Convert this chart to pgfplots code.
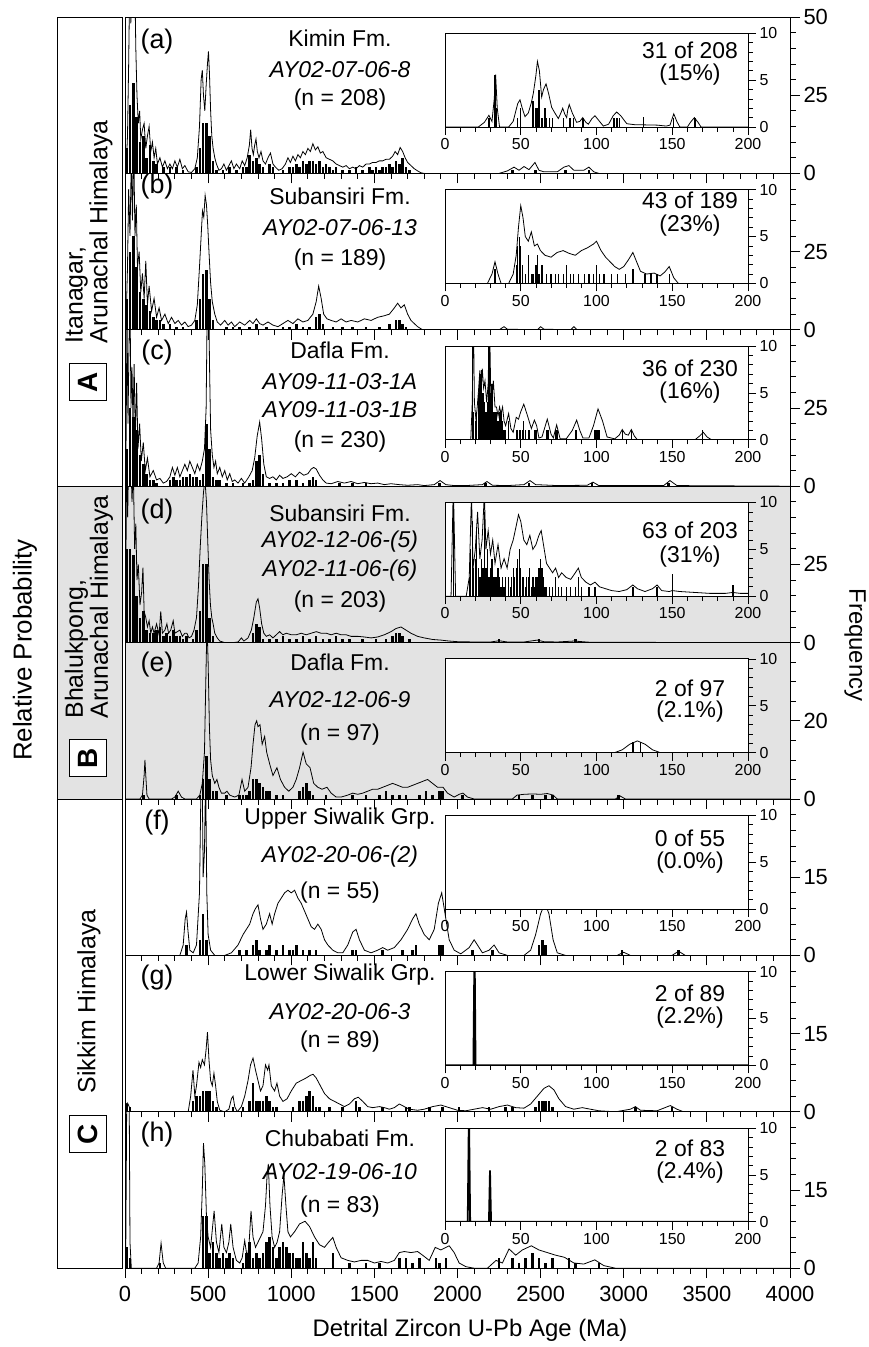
\documentclass[border=0pt]{standalone}
\usepackage{fontspec}
\setmainfont{Liberation Sans}
\usepackage{pgfplots}
\pgfplotsset{compat=1.18}
\definecolor{panelgray}{gray}{0.89}
\newcommand\pf{\fontsize{23}{23}\selectfont}
\newcommand\lf{\fontsize{27}{27}\selectfont}
\pgfplotsset{
  mainax/.style={
    scale only axis, width=665bp, height=156.4bp,
    xmin=0, xmax=4000, ymin=0,
    xtick={0,500,1000,1500,2000,2500,3000,3500,4000}, minor x tick num=4,
    xticklabels={},
    xtick pos=bottom, ytick pos=right, yticklabel pos=right,
    tick align=outside,
    major tick length=10bp, minor tick length=5.5bp,
    every tick/.style={black, line width=0.8pt},
    axis line style={line width=1pt},
    tick label style={font=\fontsize{22}{22}\selectfont},
    /pgf/number format/assume math mode=true,
    anchor=south west,
  },
  insetax/.style={
    scale only axis, width=303bp, height=93.7bp,
    xmin=0, xmax=200, ymin=0, ymax=10,
    xtick={0,50,100,150,200}, minor x tick num=4,
    ytick={0,5,10}, minor y tick num=4,
    xtick pos=bottom, ytick pos=right, yticklabel pos=right,
    tick align=outside, major tick length=8bp, minor tick length=4.5bp,
    every tick/.style={black, line width=0.7pt},
    axis line style={line width=0.9pt},
    axis background/.style={fill=white},
    tick label style={font=\fontsize{16}{16}\selectfont},
    /pgf/number format/assume math mode=true,
    anchor=south west,
  },
  hist/.style={ycomb, black, line width=2.6bp},
  curve/.style={black, line width=0.8pt},
  ihist/.style={ycomb, black, line width=1.3bp},
  icurve/.style={black, line width=0.8pt},
}
\begin{document}
\begin{tikzpicture}
\useasboundingbox (0,0) rectangle (869bp,-1347bp);
% ---------------- (a)
\begin{axis}[mainax, at={(125bp,-173.4bp)}, ymax=50, ytick={0,25,50}, minor ytick={5,10,15,20,30,35,40,45}]
\addplot[hist] coordinates {(10,8) (30,22) (50,29) (70,18) (90,10) (110,12) (130,5) (150,9) (170,4) (190,3) (230,2) (270,2) (310,2) (350,1) (430,2) (450,8) (470,16) (490,16) (510,12) (530,4) (550,1) (590,1) (630,2) (670,1) (710,2) (730,2) (750,6) (770,4) (790,5) (810,3) (830,2) (870,3) (890,2) (950,1) (990,2) (1010,2) (1030,3) (1050,2) (1070,4) (1090,3) (1110,4) (1130,4) (1150,3) (1170,4) (1190,2) (1210,3) (1230,2) (1250,1) (1270,2) (1310,1) (1350,1) (1390,2) (1430,1) (1470,2) (1490,1) (1510,2) (1530,1) (1550,2) (1570,2) (1590,3) (1610,2) (1630,4) (1650,3) (1670,5) (1690,2) (1710,1) (2330,1) (2470,1) (2650,1) (2790,1)};
\addplot[curve] coordinates {(0,0) (8,3) (15,12) (22,35) (28,60) (35,48) (42,62) (50,55) (58,65) (65,40) (72,25) (80,16) (88,20) (95,11) (105,14) (115,16) (125,8) (135,12) (145,15) (155,7) (165,10) (175,5) (185,8) (195,3) (210,5) (225,2) (240,4) (255,1.5) (270,3) (285,1.5) (300,4) (315,2) (330,4.5) (345,1.5) (360,2.5) (380,0.5) (400,0.3) (420,1.5) (435,5) (448,15) (458,30) (465,33) (472,25) (480,20) (488,28) (496,35) (502,39) (508,32) (515,20) (522,12) (530,8) (540,5) (550,3) (565,1) (580,1.5) (595,3) (610,1) (625,2.5) (640,4) (655,1.5) (670,3) (690,1.5) (705,4) (720,2.5) (735,5) (748,9) (756,14) (764,8) (772,6) (780,9) (788,11) (796,7) (806,5) (818,7) (830,4) (845,3) (860,5) (875,6.5) (890,3) (905,2) (925,1) (945,1.5) (965,3) (980,5) (995,3.5) (1010,5.5) (1025,4) (1040,6) (1055,5) (1070,7) (1085,6) (1100,8) (1115,7) (1130,9.5) (1145,7.5) (1160,8.5) (1175,6.5) (1190,7) (1210,5) (1230,4.5) (1250,4) (1270,3) (1290,2.5) (1310,2) (1330,2.5) (1350,1.5) (1370,2) (1390,1.5) (1410,2.5) (1430,2) (1450,3) (1470,3) (1490,3.5) (1510,3.5) (1530,4) (1550,4) (1570,4.5) (1590,4.5) (1610,5.5) (1625,7) (1640,6) (1655,8.3) (1670,7) (1685,5) (1700,3.5) (1720,2.5) (1740,1.5) (1760,0.8) (1780,0.2) (1800,0) (2250,0) (2300,0.8) (2340,2) (2370,1) (2400,2.2) (2430,1.2) (2466,3.5) (2490,1) (2520,0.5) (2600,0.5) (2640,2) (2670,2.5) (2700,1) (2760,1) (2790,2) (2820,0.5) (2850,0) (4000,0)};
\end{axis}
\begin{axis}[insetax, at={(445bp,-127bp)}]
\addplot[ihist] coordinates {(29,1) (33,5.5) (34,2) (48,1) (50,2) (58,2.8) (60,2) (61,2) (62,4) (64,1) (66,2) (67,1) (69,1) (71,1) (78,1) (82,1) (83,1) (85,1) (91,1) (111,1) (112,1) (113,1) (114,1) (115,1) (131,1.1) (151,1) (165,1)};
\addplot[icurve] coordinates {(0,0) (22,0) (26,0.5) (29,1.25) (31,0.6) (32.5,3) (33.4,5.6) (34.5,2) (36,0) (42,0) (45,0.6) (48,2.5) (49.5,2.9) (51,2) (52.8,1.1) (55,1.5) (57,2.6) (58.3,3.6) (60,5.5) (61,7.0) (62.3,6) (63.8,3.2) (65,4) (66.7,4.6) (68.5,3.5) (70.4,2.1) (72.5,1.5) (74.8,0.9) (76.5,1.5) (77.7,2.0) (79,1.4) (80.3,1.0) (81,1.8) (82,2.4) (84,1.5) (86.9,0.5) (89,0.6) (90.9,1.0) (93,0.5) (94.6,0.3) (97,0.9) (99,1.2) (101,0.8) (104.5,0.1) (108,0.3) (111,1.2) (113.3,1.6) (116,1.2) (120,0.35) (125,0.25) (140,0.2) (146,0.1) (148.5,0.2) (151,1.4) (153,0.6) (155,0) (160,0) (162,0.5) (164.6,1.0) (167,0.5) (169,0) (200,0)};
\end{axis}
% ---------------- (b)
\begin{axis}[mainax, at={(125bp,-329.8bp)}, ymax=50, ytick={0,25}, minor ytick={5,10,15,20,30,35,40,45,50}]
\addplot[hist] coordinates {(10,10) (30,25) (50,30) (70,20) (90,12) (110,10) (130,8) (150,6) (170,4) (190,3) (210,3) (230,2) (270,2) (310,1) (350,1) (430,3) (450,10) (470,18) (490,19) (510,10) (530,3) (610,1) (650,1) (690,1) (750,1) (790,2) (850,1) (950,1) (990,1) (1030,2) (1070,1) (1110,1) (1150,4) (1170,5) (1190,2) (1250,1) (1310,1) (1370,1) (1450,1) (1530,1) (1590,2) (1630,3) (1650,3) (1670,2) (1690,1)};
\addplot[curve] coordinates {(0,0) (8,5) (15,20) (22,45) (30,30) (38,55) (45,35) (52,60) (60,30) (68,40) (75,20) (85,25) (95,12) (105,18) (115,10) (125,22) (135,8) (145,14) (160,6) (175,10) (190,4) (205,7) (220,3) (240,5) (260,2) (280,4) (300,2) (320,3) (340,1.5) (360,2.5) (380,1) (400,1.5) (420,3) (435,8) (448,20) (458,30) (466,38) (474,36) (482,43) (490,40) (498,33) (506,24) (515,15) (525,9) (540,5) (555,2.5) (575,1.5) (600,3) (620,1.5) (640,2.5) (660,1) (690,2.5) (720,1.5) (750,3) (770,2) (790,3.5) (810,2) (830,1.5) (860,2.5) (890,1.5) (920,1) (950,2) (980,3) (1010,2) (1040,3.5) (1070,2.5) (1100,3) (1130,5) (1150,9) (1165,14) (1180,10) (1195,5) (1215,3.5) (1240,3) (1270,2.5) (1300,3.5) (1330,2.5) (1360,3) (1400,2.5) (1440,3.5) (1480,3) (1520,4) (1560,4.5) (1590,5) (1620,7) (1640,8.5) (1660,7) (1680,8) (1700,5) (1720,3) (1740,2) (1760,1) (1790,0) (2250,0) (2280,1) (2300,0.2) (2480,0) (2500,1) (2520,0.2) (2680,0) (2700,1) (2720,0) (4000,0)};
\end{axis}
\begin{axis}[insetax, at={(445bp,-283.4bp)}]
\addplot[ihist] coordinates {(33,1.5) (47,2) (48,4) (49,5) (50,4) (51,2) (53,1) (55,3) (57,1) (58,1) (60,2) (61,3) (62,1) (64,2) (67,1) (70,1) (73,1) (75,1) (78,1) (80,2) (83,1) (85,1) (88,1) (92,1) (95,1) (98,1) (100,2) (102,1) (105,1) (110,1) (114,1) (119,1) (124,1.5) (132,1) (136,1) (140,1) (148,1)};
\addplot[icurve] coordinates {(0,0) (28,0) (31,1) (33,2.3) (35,1) (37,0) (42,0) (45,1) (47,3) (48.5,6) (50,8.3) (51.5,7) (53,5) (55,4.5) (57,5.5) (59,4) (61,4.2) (63,3.5) (66,3) (70,2.8) (74,3.3) (78,3.5) (82,3.2) (86,3) (90,3.5) (94,3.8) (98,4.2) (100,4.5) (103,3.5) (106,2.8) (109,2.3) (112,1.8) (115,1.5) (118,1.8) (121,2.5) (124,3.3) (126,2.5) (129,1.3) (133,1) (138,1.1) (142,0.8) (145,1.2) (148,1.8) (151,0.6) (154,0) (200,0)};
\end{axis}
% ---------------- (c)
\begin{axis}[mainax, at={(125bp,-486.2bp)}, ymax=50, ytick={0,25}, minor ytick={5,10,15,20,30,35,40,45,50}]
\addplot[hist] coordinates {(10,12) (30,25) (50,22) (70,18) (90,10) (110,7) (130,4) (150,2) (170,2) (190,1) (270,2) (290,3) (310,2) (330,2) (350,3) (370,3) (390,4) (410,3) (430,3) (450,2) (470,4) (490,20) (510,12) (530,3) (550,2) (570,2) (610,1) (650,1) (710,1) (750,1) (770,2) (790,8) (810,10) (830,4) (870,1) (910,1) (950,1) (990,2) (1030,2) (1070,1) (1110,2) (1130,3) (1150,2) (1290,1) (1370,1) (1450,1) (1890,1) (2170,1) (2430,1) (2810,1) (3270,1)};
\addplot[curve] coordinates {(0,0) (6,10) (12,55) (18,20) (24,45) (30,60) (36,25) (42,38) (48,20) (55,39) (62,15) (70,33) (78,12) (88,20) (98,8) (110,14) (122,5) (135,9) (150,3) (170,5) (190,2) (210,2.5) (230,1) (250,1.5) (270,3) (285,6) (300,3.5) (315,6) (330,3) (345,5) (360,7) (375,5) (390,8) (405,6) (420,4) (435,7) (450,5) (465,8) (478,12) (488,25) (495,60) (502,70) (508,40) (515,18) (525,10) (535,6) (545,8) (555,4) (570,6) (585,3) (600,5) (615,2) (630,4) (645,1.5) (660,2) (680,1) (700,2.5) (720,1) (745,3) (765,5) (780,9) (795,16) (810,20.5) (822,15) (835,7) (850,3) (870,2.5) (890,3) (910,2) (930,3.5) (950,2.5) (975,3) (1000,4) (1025,3) (1050,4.5) (1075,3.5) (1100,4) (1120,5.5) (1135,6) (1150,5.5) (1170,3.5) (1190,2) (1210,1) (1240,0.8) (1280,1.5) (1320,1) (1360,1.5) (1400,0.8) (1440,1.2) (1480,0.8) (1520,1) (1560,0.5) (1600,0.8) (1650,0.5) (1700,0.3) (1760,0.5) (1800,0.2) (1860,0.5) (1895,1.8) (1930,0.5) (1980,0.2) (2050,0.2) (2150,0.5) (2177,1.5) (2210,0.3) (2300,0.2) (2400,0.5) (2436,1.8) (2470,0.5) (2560,0.3) (2600,0.2) (2780,0.3) (2815,1.3) (2850,0.2) (3240,0.2) (3278,1.8) (3320,0.2) (4000,0)};
\end{axis}
\begin{axis}[insetax, at={(445bp,-439.8bp)}]
\addplot[ihist] coordinates {(18,12) (19,3) (20,2) (21,3) (22,5) (23,7) (24,7.5) (25,5) (26,4) (27,3) (28,4) (29,12) (30,5) (31,6) (32,3) (33,3) (34,3) (35,2) (36,3) (37,3) (38,2) (39,1) (40,1) (42,2) (47,1) (48,1) (49,1) (50,1) (51,1) (52,2) (53,1) (55,1) (56,1) (59,1) (60,1) (67,1) (68,1) (73,1) (74,1) (86,1) (87,1) (99,1) (100,1) (101,1) (102,1) (117,1) (123,1) (170,1)};
\addplot[icurve] coordinates {(0,0) (17,0) (18,4) (18.7,14) (19.4,4) (20.5,2) (22,5) (23,7.4) (23.8,5) (24.6,7.6) (25.5,5.5) (26.4,6.3) (27.5,4) (28.5,6) (29.3,14) (30.2,5) (31,4.5) (31.9,6.3) (33,3.5) (34,3.5) (35,2.5) (36,3.5) (37,2.8) (38,3.5) (39,2) (40,1.5) (42,2.8) (43.5,1.2) (45,0.8) (47,2.4) (48.5,2.2) (50,3) (52,3.8) (54,2.8) (55.7,1.9) (57,1.2) (59,2.1) (60.5,1.5) (62,0.2) (64,0.3) (67.5,2.2) (70,0.6) (71.5,0.2) (73.7,1.6) (76,0.1) (80,0.1) (84,1) (86.9,2.1) (89,1) (91,0.2) (95,0.2) (98,1.5) (101,3.3) (104,2) (107,0.3) (112,0.1) (115,0.5) (117,1.1) (119,0.6) (121,0.5) (123,1.1) (125,0.4) (127,0) (165,0) (168,0.4) (170.5,0.8) (173,0.3) (176,0) (200,0)};
\end{axis}
% ---------------- (d)
\begin{axis}[mainax, at={(125bp,-642.6bp)}, ymax=50, ytick={0,25}, minor ytick={5,10,15,20,30,35,40,45,50}, axis background/.style={fill=panelgray}]
\addplot[hist] coordinates {(10,30) (30,30) (50,28) (70,15) (90,8) (110,10) (130,4) (150,3) (170,3) (190,4) (210,5) (230,2) (250,3) (270,2) (290,4) (310,2) (330,2) (350,1) (370,2) (410,1) (430,4) (450,10) (470,25) (490,25) (510,8) (530,2) (770,3) (790,6) (810,5) (830,1) (870,1) (910,1) (950,2) (990,1) (1030,1) (1070,2) (1110,1) (1150,2) (1190,1) (1230,1) (1270,2) (1310,1) (1350,1) (1430,1) (1510,1) (1570,1) (1610,2) (1630,3) (1650,3) (1670,2) (1710,1) (2250,1) (2490,1) (2710,1)};
\addplot[curve] coordinates {(0,0) (5,20) (10,60) (16,40) (22,60) (28,50) (35,60) (42,45) (50,55) (58,30) (65,38) (72,20) (80,25) (90,12) (100,16) (108,24) (115,10) (125,8) (135,5) (145,7) (155,3) (165,5) (175,3) (190,6) (205,2.5) (215,10) (225,3) (240,4) (252,6) (262,3) (275,4) (290,7) (300,3) (315,3.5) (330,4) (345,2) (360,3) (372,3) (385,1.5) (400,2) (415,4) (430,8) (442,18) (452,30) (462,40) (472,48) (481,52) (490,45) (498,32) (506,20) (514,12) (522,8) (530,6) (540,3) (555,1.5) (570,0.5) (600,0) (650,0) (680,0.2) (700,1.5) (715,0.5) (740,1.5) (760,4) (775,8) (790,13) (800,14) (810,11) (822,6) (835,3) (850,2) (870,2.5) (890,1.5) (910,2.5) (930,3.5) (950,2.5) (970,3) (1000,2.5) (1030,2.5) (1060,3) (1090,2.5) (1120,3) (1150,3.5) (1180,3) (1210,3) (1240,2.5) (1270,3) (1300,2.5) (1330,2.5) (1360,2) (1400,2) (1440,1.8) (1480,1.5) (1520,1.8) (1560,2.5) (1600,3.5) (1630,4.5) (1660,5) (1690,4) (1720,3) (1760,2) (1800,1.5) (1850,1) (1900,0.8) (1950,0.5) (2000,0.3) (2100,0.2) (2200,0.2) (2250,0.6) (2300,0.2) (2400,0.2) (2480,0.8) (2520,0.3) (2600,0.2) (2700,0.5) (2800,0.1) (4000,0)};
\end{axis}
\begin{axis}[insetax, at={(445bp,-596.2bp)}]
\addplot[ihist] coordinates {(5.5,10.5) (16,2) (17,5) (18,8) (19,3) (20,4) (21,7) (22,3) (23,2) (24,4) (25,3) (26,9) (27,3) (28,5) (29,2) (30,3) (31,4) (32,2) (33,2) (34,2) (35,3) (36,2) (37,1) (38,2) (39,1) (40,2) (42,2) (43,1) (44,2) (45,3) (46,2) (47,3) (48,4) (49,5) (50,3) (51,2) (52,2) (53,1) (54,2) (55,2) (56,3) (57,1) (58,2) (59,1) (60,2) (61,2) (62,3) (63,4) (64,3) (65,2) (66,1) (67,1) (69,1) (71,1) (73,2) (75,1) (77,1) (80,1) (83,1) (86,1) (88,2) (90,1) (95,1) (99,1) (124,1) (140,1) (150,2.4) (190,1.2)};
\addplot[icurve] coordinates {(0,0) (4,0) (5.5,12) (7,0) (14,0) (16,2) (17.5,11) (18.5,3) (20,5) (21.5,9) (23,4) (24.5,6) (26,11) (27,5) (28.5,7) (30,4.5) (31.5,6) (33,3.5) (35,5.5) (37,3) (39,4) (41,3) (43,5) (45,6) (47,7.5) (48.5,8.7) (50,8) (52,6) (54,5.5) (56,6.5) (58,5) (60,5.5) (62,6.5) (63.5,7) (65,5.5) (67,3.5) (69,3) (71,2.5) (73,3) (75,2) (77,2.5) (80,2) (83,1.8) (86,2.5) (88,3) (90,2) (93,1.5) (96,1.2) (99,1.5) (102,1) (106,0.8) (110,0.6) (115,0.5) (120,0.7) (124,1.2) (127,0.8) (132,0.5) (137,0.8) (140,1.2) (143,0.6) (148,0.5) (150,0.6) (155,0.5) (165,0.4) (175,0.3) (185,0.3) (190,0.4) (195,0.3) (200,0.3)};
\end{axis}
% ---------------- (e)
\begin{axis}[mainax, at={(125bp,-799bp)}, ymax=40, ytick={0,20}, minor ytick={5,10,15,25,30,35,40}, axis background/.style={fill=panelgray}]
\addplot[hist] coordinates {(110,1) (310,1) (450,1) (470,5) (490,11) (510,5) (530,2) (550,2) (610,1) (690,1) (710,1) (730,1) (750,2) (770,5) (790,5) (810,4) (830,3) (850,2) (870,2) (910,1) (950,1) (1050,2) (1070,3) (1090,4) (1110,2) (1130,1) (1210,1) (1370,1) (1450,1) (1530,1) (1570,2) (1610,1) (1650,1) (1690,1) (1770,1) (1810,2) (1850,1) (1890,2) (1910,2) (2030,1) (2370,1) (2450,1) (2530,1) (2570,1) (2970,1)};
\addplot[curve] coordinates {(0,0) (90,0) (105,1) (115,6) (120,10) (125,6) (132,1) (145,0) (280,0) (300,0.5) (320,2) (340,0.5) (360,0) (430,0) (450,1) (465,4) (478,12) (486,30) (493,45) (500,35) (508,18) (515,10) (525,6) (540,4) (553,5) (565,3) (580,1.5) (600,1.5) (613,2) (630,1) (660,0.5) (685,1) (704,5) (720,2) (740,3) (758,8) (770,14) (782,19) (792,20) (800,18.5) (812,19) (825,14) (840,16) (852,12) (870,9) (890,6) (914,8) (935,5) (960,3) (985,2) (1010,3) (1030,5) (1050,8) (1071,12) (1090,9) (1113,8) (1135,4) (1160,3) (1185,2.5) (1215,3) (1240,1.5) (1270,0.5) (1300,0.5) (1340,1) (1370,1.5) (1400,1.2) (1430,1.5) (1460,2) (1490,2.5) (1520,2.5) (1550,3) (1580,3.5) (1610,4) (1640,3.5) (1670,3) (1700,3) (1730,3.5) (1760,4) (1790,4.5) (1820,5) (1850,4) (1880,3) (1913,3) (1940,1.5) (1980,0.5) (2010,1.2) (2033,1.5) (2060,0.5) (2100,0) (2330,0) (2358,1) (2400,1.2) (2450,1.3) (2500,1.2) (2540,1.4) (2575,1) (2600,0) (2950,0) (2977,0.8) (3010,0) (4000,0)};
\end{axis}
\begin{axis}[insetax, at={(445bp,-752.6bp)}]
\addplot[ihist] coordinates {(124,1.1) (129,1.1)};
\addplot[icurve] coordinates {(0,0) (112,0) (117,0.3) (122,0.9) (127,1.25) (132,0.9) (137,0.3) (142,0) (200,0)};
\end{axis}
% ---------------- (f)
\begin{axis}[mainax, at={(125bp,-955.4bp)}, ymax=30, ytick={0,15}, minor ytick={3,6,9,12,18,21,24,27,30}]
\addplot[hist] coordinates {(370,2) (450,3) (470,8) (490,3) (690,1) (730,1) (770,2) (790,3) (810,1) (850,1) (870,2) (910,1) (950,2) (990,1) (1010,1) (1030,2) (1070,1) (1110,1) (1150,1) (1370,1) (1390,1) (1550,1) (1670,1) (1730,1) (1750,2) (1890,2) (1910,2) (2090,1) (2210,1) (2490,2) (2510,3) (2530,2) (2990,1) (3330,1)};
\addplot[curve] coordinates {(0,0) (330,0) (350,2) (362,7) (370,8.3) (378,5) (390,1) (410,0.5) (430,2) (448,12) (458,35) (463,40) (470,15) (478,20) (485,35) (492,12) (500,4) (515,1) (540,0) (600,0) (640,0.5) (680,2) (710,4) (730,5) (750,6) (770,8) (785,9) (800,9.7) (815,7) (830,5) (850,6) (870,8) (885,6) (900,8) (920,10) (940,11) (960,12) (980,12.5) (1000,12) (1020,12.5) (1040,11) (1060,10) (1080,8.5) (1100,7) (1120,5.5) (1140,5) (1160,6) (1180,5) (1200,3) (1220,2) (1250,1) (1280,0.5) (1310,0.5) (1340,2) (1370,4.5) (1390,5) (1410,3) (1440,1) (1480,0.5) (1520,1) (1550,1.5) (1580,1) (1620,1.5) (1660,3) (1700,5) (1730,7) (1750,8) (1770,6) (1800,4) (1830,3) (1860,5) (1885,10) (1905,12) (1925,8) (1950,3) (1980,1) (2020,0.3) (2070,1.5) (2100,3) (2120,2) (2150,0.5) (2190,1) (2220,2) (2250,0.5) (2300,0) (2400,0) (2440,1) (2470,4) (2500,8) (2526,10) (2550,8) (2575,3) (2600,0.5) (2650,0) (2960,0) (3000,0.6) (3040,0) (3290,0) (3330,0.8) (3370,0) (4000,0)};
\end{axis}
\begin{axis}[insetax, at={(445bp,-909bp)}]
\addplot[draw=none] coordinates {(0,0) (200,0)};
\end{axis}
% ---------------- (g)
\begin{axis}[mainax, at={(125bp,-1111.8bp)}, ymax=30, ytick={0,15}, minor ytick={3,6,9,12,18,21,24,27,30}]
\addplot[hist] coordinates {(10,1.5) (30,1) (410,2) (430,3) (450,3) (470,4) (490,4) (510,4) (530,2) (550,1) (650,1) (710,1) (750,2) (770,5.5) (790,2) (810,2) (830,2) (850,3) (870,2) (890,1) (910,1) (1010,1) (1050,2) (1070,2) (1090,3) (1110,4) (1130,3) (1150,1) (1170,1) (1230,1) (1310,1) (1390,2) (1410,1) (1550,1) (1690,1) (1710,1) (1830,1) (1910,1) (2010,1) (2190,1) (2290,1) (2330,1) (2470,1) (2490,2) (2510,2) (2530,2) (2550,2) (2570,1) (3070,1) (3290,1)};
\addplot[curve] coordinates {(0,0) (5,1.5) (15,1.7) (25,1) (35,0) (380,0) (395,3) (409,8) (420,3) (430,5) (445,9.5) (455,8.5) (465,10) (478,9) (488,12) (496,15.3) (505,10) (515,6) (525,5) (535,7.4) (545,5) (555,2) (570,0.3) (600,0) (625,0.5) (640,2.5) (650,3) (660,1) (675,0) (700,1) (720,3) (740,6) (755,9) (770,10.3) (785,8) (800,6) (815,4) (830,5) (845,9) (858,8) (866,9) (880,5) (900,4) (914,5.5) (930,3) (950,2) (975,2.5) (1000,4) (1030,5.5) (1060,6) (1090,6.5) (1115,7) (1131,7.2) (1150,6.5) (1175,5) (1200,3.5) (1230,2.5) (1260,2) (1290,1.5) (1320,1) (1350,1.5) (1380,2.5) (1403,2.8) (1430,2) (1460,1) (1490,0.8) (1530,1) (1560,0.8) (1590,0.5) (1620,0.8) (1650,1.5) (1680,1) (1710,0.5) (1760,0.3) (1800,0.5) (1850,1) (1900,1.3) (1950,0.8) (2000,0.3) (2050,0.2) (2100,0.5) (2150,0.8) (2200,0.5) (2250,1) (2300,1.3) (2350,0.8) (2400,0.7) (2440,1.5) (2480,3) (2520,4.5) (2550,5) (2580,4.2) (2610,2.5) (2650,1) (2700,0.5) (2750,0.8) (2800,0.5) (2850,0.2) (2950,0) (3040,0.5) (3070,1) (3100,0.3) (3200,0.2) (3280,1.2) (3320,0.5) (3360,0) (4000,0)};
\end{axis}
\begin{axis}[insetax, at={(445bp,-1065.4bp)}]
\addplot[black, line width=2pt] coordinates {(0,0) (18.8,0) (19.5,12) (20.1,0) (200,0)};
\addplot[ihist] coordinates {(19.8,2)};
\end{axis}
% ---------------- (h)
\begin{axis}[mainax, at={(125bp,-1268.2bp)}, ymax=30, ytick={0,15}, minor ytick={3,6,9,12,18,21,24,27,30},
  xticklabels={0,500,1000,1500,2000,2500,3000,3500,4000}, xticklabel style={yshift=-4bp}]
\addplot[hist] coordinates {(10,4) (30,2) (210,1) (470,10) (490,10) (510,3) (530,5) (550,3) (570,2) (590,3) (610,2) (630,3) (650,2) (710,1) (730,3) (750,5) (770,2) (790,3) (810,2) (830,3) (850,5) (870,6) (890,4) (910,2) (930,4) (950,5) (970,4) (990,3) (1010,3) (1030,2) (1050,2) (1070,5) (1090,3) (1110,2) (1130,5) (1150,2) (1250,3) (1350,1) (1450,1) (1530,1) (1650,2) (1690,2) (1730,1) (1770,2) (1870,2) (1890,1) (1930,2) (2250,2) (2330,2) (2370,1) (2410,2) (2450,3) (2490,2) (2530,1) (2570,2) (2670,2) (2710,1) (2850,1)};
\addplot[curve] coordinates {(0,0) (5,5) (12,40) (18,30) (24,40) (30,5) (38,0) (190,0) (205,1) (217,4.8) (230,1) (245,0) (420,0) (440,1) (455,6) (465,15) (472,24) (480,20) (490,10) (500,6) (515,4) (536,11) (550,5) (565,3) (582,8.5) (595,4) (610,3) (625,5) (636,8.5) (650,4) (670,1.5) (690,1) (705,2) (720,5.3) (735,2) (745,4) (758,11) (770,6) (785,4) (800,5) (815,6) (830,7) (845,12) (855,18) (862,20) (872,12) (885,6) (900,4) (915,5) (930,7) (945,14) (956,17.8) (968,12) (980,7) (995,6) (1020,7) (1050,8.5) (1083,9) (1110,8) (1140,6) (1170,4.5) (1200,4) (1225,5) (1250,5.9) (1270,4) (1300,2) (1340,1.5) (1380,1.2) (1420,1.5) (1460,1.5) (1500,1) (1540,1.3) (1580,1) (1620,1.5) (1650,3) (1680,3.2) (1720,3) (1760,3.2) (1790,2.5) (1830,1.5) (1866,4) (1900,3.5) (1950,4.3) (1980,3) (2010,1) (2050,0.3) (2100,0) (2180,0) (2232,1.5) (2270,1) (2310,3.7) (2350,2.5) (2390,3.5) (2444,4.3) (2490,3.5) (2540,3) (2590,2.5) (2643,2.1) (2700,1) (2760,0.8) (2826,1.6) (2880,0.5) (2950,0) (4000,0)};
\end{axis}
\begin{axis}[insetax, at={(445bp,-1221.8bp)}]
\addplot[black, line width=1.8pt] coordinates {(0,0) (15.0,0) (15.8,12) (16.6,0) (29.0,0) (29.7,5.5) (30.4,0) (200,0)};
\end{axis}
% ---------------- region column
\draw[line width=1pt] (57bp,-17bp) rectangle (122bp,-486.2bp);
\filldraw[fill=panelgray, line width=1pt] (57bp,-486.2bp) rectangle (122bp,-799bp);
\draw[line width=1pt] (57bp,-799bp) rectangle (122bp,-1268.2bp);
\begin{scope}[every node/.style={rotate=90, anchor=west, align=left, font=\fontsize{25}{25}\selectfont}]
\node at (89bp,-347bp) {Itanagar,\\Arunachal Himalaya};
\node at (89bp,-722bp) {Bhalukpong,\\Arunachal Himalaya};
\node at (89bp,-1097bp) {Sikkim Himalaya};
\end{scope}
\begin{scope}[every node/.style={draw, fill=white, line width=1.3pt, rotate=90, font=\bfseries\fontsize{28}{28}\selectfont, minimum size=37bp, inner sep=0pt}]
\node at (88bp,-382bp) {A};
\node at (88bp,-758bp) {B};
\node at (88bp,-1134bp) {C};
\end{scope}
% ---------------- axis titles
\node[rotate=90, font=\fontsize{26}{26}\selectfont] at (25bp,-650bp) {Relative Probability};
\node[rotate=-90, font=\fontsize{24}{24}\selectfont] at (855bp,-645bp) {Frequency};
\node[font=\fontsize{24}{24}\selectfont] at (470bp,-1330bp) {Detrital Zircon U-Pb Age (Ma)};
% ---------------- panel texts
\begin{scope}[every node/.style={font=\pf}]
\node[font=\lf] at (157bp,-42bp) {(a)};
\node at (340bp,-38bp) {Kimin Fm.};
\node at (340bp,-70bp) {\itshape AY02-07-06-8};
\node at (340bp,-100bp) {(n = 208)};
\node at (690bp,-50bp) {31 of 208};
\node at (690bp,-75bp) {(15\%)};
\node[font=\lf] at (157bp,-187bp) {(b)};
\node at (340bp,-196bp) {Subansiri Fm.};
\node at (340bp,-228bp) {\itshape AY02-07-06-13};
\node at (340bp,-260bp) {(n = 189)};
\node at (690bp,-200bp) {43 of 189};
\node at (690bp,-226bp) {(23\%)};
\node[font=\lf] at (157bp,-353bp) {(c)};
\node at (340bp,-350bp) {Dafla Fm.};
\node at (340bp,-382bp) {\itshape AY09-11-03-1A};
\node at (340bp,-410bp) {\itshape AY09-11-03-1B};
\node at (340bp,-442bp) {(n = 230)};
\node at (690bp,-368bp) {36 of 230};
\node at (690bp,-393bp) {(16\%)};
\node[font=\lf] at (157bp,-512bp) {(d)};
\node at (340bp,-513bp) {Subansiri Fm.};
\node at (340bp,-542bp) {\itshape AY02-12-06-(5)};
\node at (340bp,-571bp) {\itshape AY02-11-06-(6)};
\node at (340bp,-602bp) {(n = 203)};
\node at (690bp,-530bp) {63 of 203};
\node at (690bp,-557bp) {(31\%)};
\node[font=\lf] at (157bp,-665bp) {(e)};
\node at (340bp,-662bp) {Dafla Fm.};
\node at (340bp,-700bp) {\itshape AY02-12-06-9};
\node at (340bp,-735bp) {(n = 97)};
\node at (690bp,-688bp) {2 of 97};
\node at (690bp,-712bp) {(2.1\%)};
\node[font=\lf] at (157bp,-823bp) {(f)};
\node at (340bp,-819bp) {Upper Siwalik Grp.};
\node at (340bp,-857bp) {\itshape AY02-20-06-(2)};
\node at (340bp,-893bp) {(n = 55)};
\node at (690bp,-838bp) {0 of 55};
\node at (690bp,-863bp) {(0.0\%)};
\node[font=\lf] at (157bp,-978bp) {(g)};
\node at (340bp,-975bp) {Lower Siwalik Grp.};
\node at (340bp,-1012bp) {\itshape AY02-20-06-3};
\node at (340bp,-1042bp) {(n = 89)};
\node at (690bp,-993bp) {2 of 89};
\node at (690bp,-1018bp) {(2.2\%)};
\node[font=\lf] at (157bp,-1135bp) {(h)};
\node at (340bp,-1138bp) {Chubabati Fm.};
\node at (340bp,-1172bp) {\itshape AY02-19-06-10};
\node at (340bp,-1207bp) {(n = 83)};
\node at (690bp,-1148bp) {2 of 83};
\node at (690bp,-1173bp) {(2.4\%)};
\end{scope}
\end{tikzpicture}
\end{document}
